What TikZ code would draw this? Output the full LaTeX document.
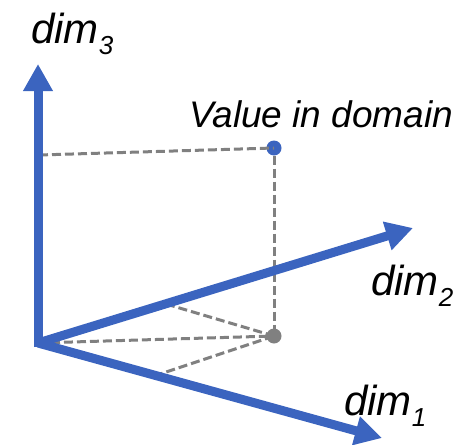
\documentclass[tikz,border=0pt]{standalone}
\usepackage{fontspec}
\setmainfont{Liberation Sans}
\usepackage{xcolor}
\usetikzlibrary{arrows.meta}
\definecolor{axisblue}{HTML}{3B64BF}
\definecolor{guide}{HTML}{808080}
\tikzset{
  axisline/.style={line width=9pt,draw=axisblue,-{Triangle[length=27pt,width=28pt]}},
  guideline/.style={line width=3pt,draw=guide,dash pattern=on 9pt off 4pt},
  lbl/.style={anchor=base west,inner sep=0pt,font=\itshape},
  dot/.style={circle,inner sep=0pt,minimum size=15pt}
}
\newcommand{\dimlbl}[1]{{\fontsize{42}{42}\selectfont dim}\raisebox{-11pt}{\fontsize{26}{26}\selectfont #1}}

\begin{document}
\begin{tikzpicture}[x=1pt,y=-1pt]
 \useasboundingbox (0,0) rectangle (468,444);
 \coordinate (orig) at (38,343);
 \coordinate (base3) at (38,347);
 \coordinate (tip1) at (382,438);
 \coordinate (tip2) at (413,228);
 \coordinate (tip3) at (38,64);
 % guide lines
 \coordinate (on3) at (39,155);
 \coordinate (on2) at (166,304);
 \coordinate (on1) at (154,376);
 \node[dot,fill=axisblue] (val) at (274,148) {};
 \node[dot,fill=guide] (proj) at (274,336) {};
 \draw[guideline] (on3) -- (val.center);
 \draw[guideline] (val) -- (proj.center);
 \draw[guideline] (on2) -- (proj.center);
 \draw[guideline] (orig) -- (proj.center);
 \draw[guideline] (on1) -- (proj.center);
 % axes
 \draw[axisline] (base3) -- (tip3);
 \draw[axisline] (orig) -- (tip2);
 \draw[axisline] (orig) -- (tip1);
 % labels
 \node[lbl] (lbl3) at (31,44) {\dimlbl{3}};
 \node[lbl] (lbl2) at (371,295) {\dimlbl{2}};
 \node[lbl] (lbl1) at (344,415) {\dimlbl{1}};
 \node[lbl,font=\itshape\fontsize{37}{37}\selectfont] (vtxt) at (189,127) {Value in domain};
\end{tikzpicture}
\end{document}
